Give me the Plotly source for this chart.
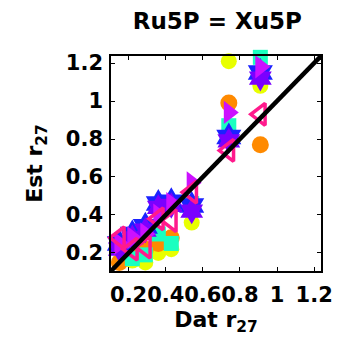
import plotly.graph_objects as go

dat_x = [0.15, 0.22, 0.29, 0.36, 0.43, 0.54, 0.74, 0.91]

yellow_y = [0.10, 0.16, 0.15, 0.20, 0.22, 0.36, 1.21, 1.08]
orange_y = [0.15, 0.20, 0.22, 0.25, 0.28, 0.45, 0.99, 0.77]
cyan_y = [0.10, 0.17, 0.19, 0.30, 0.25, 0.46, 0.87, 1.23]
blue_y = [0.25, 0.30, 0.34, 0.46, 0.47, 0.45, 0.81, 1.15]
purple_y = [0.22, 0.28, 0.32, 0.44, 0.45, 0.42, 0.79, 1.12]
magenta_y = [0.25, 0.28, 0.30, 0.40, 0.46, 0.57, 0.94, 1.18]
pink_y = [0.28, 0.22, 0.23, 0.38, 0.37, 0.52, 0.74, 0.93]

tick_vals = [0.2, 0.4, 0.6, 0.8, 1.0, 1.2]
tick_text = ["<b>0.2</b>", "<b>0.4</b>", "<b>0.6</b>", "<b>0.8</b>", "<b>1</b>", "<b>1.2</b>"]
diag = [0.1, 1.25]

FONT = "DejaVu Sans"

series = [
    (yellow_y, "circle", "#e8ff00", 16),
    (orange_y, "circle", "#ff8a00", 17),
    (cyan_y, "square", "#1affc0", 15),
    (blue_y, "hexagram", "#1a22ff", 22),
    (purple_y, "hexagram", "#7a00ff", 20),
    (magenta_y, "triangle-right", "#cc11ff", 20),
]

fig = go.Figure()
for ys, sym, col, sz in series:
    fig.add_trace(go.Scatter(x=dat_x, y=ys, mode="markers",
                             marker=dict(symbol=sym, color=col, size=sz, line=dict(width=0)),
                             cliponaxis=False, showlegend=False))
fig.add_trace(go.Scatter(x=dat_x, y=pink_y, mode="markers",
                         marker=dict(symbol="triangle-left-open", color="#ff1a8c", size=19,
                                     line=dict(width=3.5, color="#ff1a8c")),
                         cliponaxis=False, showlegend=False))
fig.add_trace(go.Scatter(x=diag, y=diag, mode="lines",
                         line=dict(color="black", width=4.5), showlegend=False))

axis_common = dict(range=[0.105, 1.237], tickvals=tick_vals, ticktext=tick_text,
                   ticks="inside", ticklen=4, tickcolor="black", showline=True,
                   linecolor="black", linewidth=1.5, mirror="ticks", showgrid=False,
                   zeroline=False, tickangle=0,
                   tickfont=dict(family=FONT, size=21, color="black"))

fig.update_layout(
    width=345, height=347,
    margin=dict(l=111, r=18, t=56, b=76),
    plot_bgcolor="white", paper_bgcolor="white",
    title=dict(text="<b>Ru5P = Xu5P</b>", x=0.63, xanchor="center", y=0.94, yanchor="middle",
               font=dict(family=FONT, size=23, color="black")),
    xaxis=dict(**axis_common, ticklabelstandoff=4,
               title=dict(text="<b>Dat r<sub>27</sub></b>", standoff=2,
                          font=dict(family=FONT, size=22, color="black"))),
    yaxis=dict(**axis_common, ticklabelstandoff=2,
               title=dict(text="<b>Est r<sub>27</sub></b>", standoff=17,
                          font=dict(family=FONT, size=22, color="black"))),
)

fig.write_html("out.html")
